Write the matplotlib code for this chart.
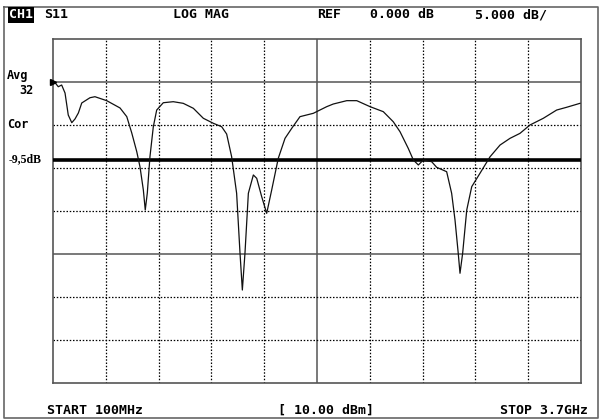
import matplotlib
matplotlib.use("Agg")
import matplotlib.pyplot as plt

# ---- data ----
freq_mhz = [100, 114, 136, 159, 182, 204, 228, 250, 273, 296, 352, 386, 466, 557,
            603, 637, 671, 693, 716, 729, 743, 761, 784, 807, 852, 920, 988, 1057,
            1125, 1193, 1250, 1284, 1318, 1352, 1375, 1391, 1409, 1432, 1466, 1489,
            1523, 1557, 1591, 1636, 1682, 1728, 1784, 1875, 1966, 2011, 2103, 2171,
            2262, 2352, 2420, 2466, 2522, 2557, 2591, 2625, 2682, 2716, 2784, 2818,
            2841, 2863, 2875, 2893, 2921, 2955, 3011, 3080, 3148, 3216, 3284, 3352,
            3443, 3534, 3602, 3693]
s11_db = [0.0, -0.08, -0.55, -0.35, -1.28, -3.84, -4.73, -4.30, -3.60, -2.44, -1.83,
          -1.71, -2.17, -3.02, -4.03, -5.93, -8.10, -9.85, -12.56, -14.88, -12.91,
          -8.69, -5.20, -3.26, -2.41, -2.29, -2.48, -3.06, -4.22, -4.80, -5.20, -6.05,
          -8.69, -12.94, -19.88, -24.19, -19.88, -12.94, -10.81, -11.20, -13.34,
          -15.27, -12.56, -8.87, -6.55, -5.38, -4.03, -3.64, -2.87, -2.56, -2.17,
          -2.17, -2.87, -3.45, -4.62, -5.78, -7.71, -9.07, -9.65, -9.07, -9.27, -9.92,
          -10.43, -12.94, -16.05, -19.92, -22.24, -19.92, -14.88, -12.17, -10.62,
          -8.69, -7.33, -6.55, -5.97, -5.00, -4.22, -3.26, -2.94, -2.48]

start_mhz = 100
stop_mhz = 3700
ref_db = 0.0
scale_db = 5.0
limit_db = -9.1
limit_label = "-9,5dB"

header_texts = ["S11", "LOG MAG", "REF", "0.000 dB", "5.000 dB/"]
footer_texts = ["START 100MHz", "[ 10.00 dBm]", "STOP 3.7GHz"]

# ---- figure ----
W, H = 599, 420
fig = plt.figure(figsize=(W / 100, H / 100), dpi=100)
fig.patch.set_facecolor("white")

# overlay in pixel coordinates for frame and annotations
ov = fig.add_axes([0, 0, 1, 1])
ov.set_xlim(0, W)
ov.set_ylim(H, 0)
ov.axis("off")
ov.plot([4, 598, 598, 4, 4], [7, 7, 418, 418, 7], color="#666666", lw=1.2)

# main plot area
x0, x1, y0, y1 = 53, 581, 39, 383
ax = fig.add_axes([x0 / W, 1 - y1 / H, (x1 - x0) / W, (y1 - y0) / H])
ax.set_xlim(start_mhz, stop_mhz)
ymax = ref_db + scale_db
ymin = ref_db - 7 * scale_db
ax.set_ylim(ymin, ymax)
ax.set_xticks([])
ax.set_yticks([])
for s in ax.spines.values():
    s.set_color("#555555")
    s.set_linewidth(1.2)

dot = (0, (1.2, 1.4))
step = (stop_mhz - start_mhz) / 10
for k in range(1, 10):
    xv = start_mhz + k * step
    if k == 5:
        ax.axvline(xv, color="#555555", lw=1.1)
    else:
        ax.axvline(xv, color="black", lw=0.9, ls=dot)
for k in range(1, 8):
    yv = ymax - k * scale_db
    if k in (1, 5):
        ax.axhline(yv, color="#555555", lw=1.1)
    else:
        ax.axhline(yv, color="black", lw=0.9, ls=dot)

ax.axhline(limit_db, color="black", lw=2.6, zorder=4)
ax.plot(freq_mhz, s11_db, color="#111111", lw=0.9, zorder=5)
ax.plot([start_mhz], [ref_db], marker=">", color="black", markersize=4,
        clip_on=False, zorder=6)

# texts
mono = dict(family="DejaVu Sans Mono", fontweight="bold", fontsize=9.5,
            va="center", color="black")
ov.text(9, 15, "CH1", color="white", ha="left",
        bbox=dict(facecolor="black", edgecolor="none", pad=0.8),
        **{k: v for k, v in mono.items() if k != "color"})
for txt, xl in zip(header_texts, [44, 173, 317, 370, 475]):
    ov.text(xl, 15, txt, ha="left", **mono)
ov.text(47, 410, footer_texts[0], ha="left", **mono)
ov.text(326, 410, footer_texts[1], ha="center", **mono)
ov.text(588, 410, footer_texts[2], ha="right", **mono)

side = dict(mono, fontsize=8.6)
ov.text(7, 75, "Avg", ha="left", **side)
ov.text(34, 90, "32", ha="right", **side)
ov.text(7, 124, "Cor", ha="left", **side)
ov.text(9, 159, limit_label, ha="left", va="center", family="Liberation Serif",
        fontweight="bold", fontsize=8.5, color="black")

fig.savefig("out.png", dpi=100)
